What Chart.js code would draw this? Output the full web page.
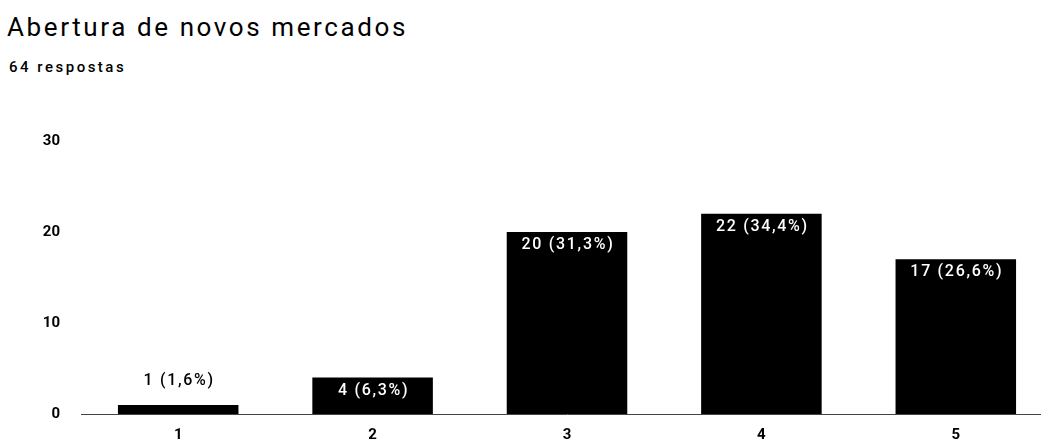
<!DOCTYPE html>
<html>
<head>
<meta charset="utf-8">
<script src="https://cdn.jsdelivr.net/npm/chart.js@4"></script>
<style>
  html, body { margin: 0; padding: 0; background: #fff; overflow: hidden; }
  body { width: 1041px; height: 444px; position: relative; font-family: Roboto, sans-serif; color: #000; }
  #title { position: absolute; left: 7px; top: 12px; font-size: 26px; letter-spacing: 2.6px; white-space: nowrap; }
  #subtitle { position: absolute; left: 9px; top: 58px; font-size: 15px; font-weight: 500; letter-spacing: 2.5px; white-space: nowrap; }
  #wrap { position: absolute; left: 0; top: 0; width: 1060px; height: 444px; }
</style>
</head>
<body>
<div id="title">Abertura de novos mercados</div>
<div id="subtitle">64 respostas</div>
<div id="wrap"><canvas id="myChart"></canvas></div>
<script>
const categories = ['1', '2', '3', '4', '5'];
const counts = [1, 4, 20, 22, 17];
const percents = ['1,6%', '6,3%', '31,3%', '34,4%', '26,6%'];
const yTicks = [0, 10, 20, 30];

// value labels: white inside tall bars, black above short ones
const barLabels = {
  id: 'barLabels',
  afterDatasetsDraw(chart) {
    const ctx = chart.ctx;
    const meta = chart.getDatasetMeta(0);
    ctx.save();
    ctx.font = '500 16px Roboto';
    ctx.letterSpacing = '1.7px';
    ctx.textAlign = 'center';
    ctx.textBaseline = 'middle';
    meta.data.forEach((bar, i) => {
      const text = counts[i] + ' (' + percents[i] + ')';
      const h = bar.base - bar.y;
      if (h > 25) {
        ctx.fillStyle = '#fff';
        ctx.fillText(text, bar.x + 1, bar.y + 13);
      } else {
        ctx.fillStyle = '#000';
        ctx.fillText(text, bar.x + 1, bar.y - 24);
      }
    });
    ctx.restore();
  }
};

const ctx = document.getElementById('myChart');

new Chart(ctx, {
  type: 'bar',
  data: {
    labels: categories,
    datasets: [{
      data: counts,
      backgroundColor: '#000',
      borderWidth: 0,
      barPercentage: 0.62,
      categoryPercentage: 1
    }]
  },
  options: {
    responsive: true,
    maintainAspectRatio: false,
    animation: false,
    layout: { padding: { top: 141, right: 7, left: 0, bottom: 0 } },
    plugins: { legend: { display: false }, tooltip: { enabled: false } },
    scales: {
      x: {
        grid: { display: false, drawTicks: false },
        border: { display: true, color: '#444', width: 1 },
        ticks: { color: '#000', font: { family: 'Roboto', size: 15, weight: 'bold' }, padding: 12 },
        afterFit(scale) { scale.height = 27; }
      },
      y: {
        min: 0,
        max: 30,
        afterBuildTicks(scale) { scale.ticks = yTicks.map(v => ({ value: v })); },
        grid: { display: false, drawTicks: false },
        border: { display: false },
        ticks: { color: '#000', font: { family: 'Roboto', size: 15, weight: 'bold' }, padding: 21 },
        afterFit(scale) { scale.width = 81; }
      }
    }
  },
  plugins: [barLabels]
});
</script>
</body>
</html>
